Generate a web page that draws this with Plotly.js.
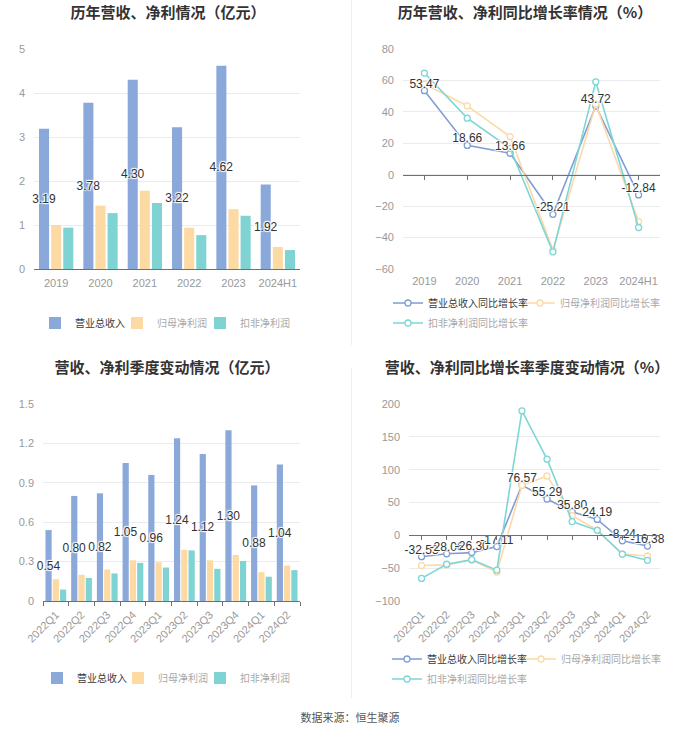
<!DOCTYPE html>
<html>
<head>
<meta charset="utf-8">
<script src="https://cdn.plot.ly/plotly-3.0.1.min.js"></script>
<style>
  html, body { margin: 0; padding: 0; background: #fff; }
  #wrap { position: relative; width: 700px; height: 734px; overflow: hidden; background: #fff; }
  .panel { position: absolute; }
  .sep { position: absolute; left: 351px; width: 1px; background: #eeeeee; }
  #foot { position: absolute; left: 0; width: 700px; top: 709px; text-align: center;
          font-family: "Noto Sans CJK SC", sans-serif; font-size: 11px; color: #555; }
</style>
</head>
<body>
<div id="wrap">
  <div id="p1" class="panel" style="left:0;top:0;width:350px;height:345px;"></div>
  <div id="p2" class="panel" style="left:350px;top:0;width:350px;height:345px;"></div>
  <div id="p3" class="panel" style="left:0;top:345px;width:350px;height:355px;"></div>
  <div id="p4" class="panel" style="left:350px;top:345px;width:350px;height:355px;"></div>
  <div class="sep" style="top:0;height:345px;"></div>
  <div class="sep" style="top:368px;height:330px;"></div>
  <div id="foot">数据来源：恒生聚源</div>
</div>
<script>
// ---------- data ----------
const years = ['2019', '2020', '2021', '2022', '2023', '2024H1'];
const revenueYear = [3.19, 3.78, 4.30, 3.22, 4.62, 1.92];
const netProfitYear = [1.00, 1.44, 1.78, 0.94, 1.36, 0.50];
const deductedYear = [0.94, 1.27, 1.50, 0.77, 1.21, 0.43];

const revenueGrowthYear = [53.47, 18.66, 13.66, -25.21, 43.72, -12.84];
const netGrowthYear = [57.7, 43.8, 24.3, -48.0, 44.9, -29.8];
const deductedGrowthYear = [64.7, 36.0, 16.8, -49.1, 59.1, -33.6];

const quarters = ['2022Q1', '2022Q2', '2022Q3', '2022Q4', '2023Q1', '2023Q2', '2023Q3', '2023Q4', '2024Q1', '2024Q2'];
const revenueQ = [0.54, 0.80, 0.82, 1.05, 0.96, 1.24, 1.12, 1.30, 0.88, 1.04];
const netProfitQ = [0.165, 0.20, 0.24, 0.31, 0.295, 0.39, 0.31, 0.35, 0.22, 0.27];
const deductedQ = [0.087, 0.175, 0.21, 0.29, 0.255, 0.385, 0.245, 0.305, 0.185, 0.235];

const revenueGrowthQ = [-32.53, -28.06, -26.30, -17.11, 76.57, 55.29, 35.80, 24.19, -8.24, -16.38];
const netGrowthQ = [-46.0, -45.0, -37.6, -56.0, 76.0, 90.5, 30.0, 8.0, -28.5, -31.5];
const deductedGrowthQ = [-65.6, -44.0, -37.0, -53.0, 189.6, 116.0, 21.0, 7.6, -28.5, -38.0];

const namesBar = ['营业总收入', '归母净利润', '扣非净利润'];
const namesLine = ['营业总收入同比增长率', '归母净利润同比增长率', '扣非净利润同比增长率'];

// ---------- style ----------
const FONT = '"Liberation Sans", "Noto Sans CJK SC", sans-serif';
const CJK = '"Noto Sans CJK SC", sans-serif';
const cBlue = '#8aa8da', cOrange = '#fddaa3', cTeal = '#7fd3d3';
const lBlue = '#7f9dd4', lOrange = '#fcd9a6', lTeal = '#7dd6d6';
const halo = '1px 1px 1px #fff, -1px -1px 1px #fff, 1px -1px 1px #fff, -1px 1px 1px #fff';
const config = { displayModeBar: false, staticPlot: true };
const legendIds = ['legend', 'legend2', 'legend3'];
const legendColors = ['#3a3a3a', '#a8a8a8', '#a8a8a8'];

function fmt(arr) { return arr.map(v => v.toFixed(2)); }

function barTraces(cats, rev, net, ded) {
  return [
    { type: 'bar', x: cats, y: rev, name: namesBar[0], marker: { color: cBlue }, legend: legendIds[0],
      text: fmt(rev), textposition: 'inside', insidetextanchor: 'middle', textangle: 0,
      constraintext: 'none', cliponaxis: false,
      insidetextfont: { color: '#333', size: 12, family: FONT, shadow: halo } },
    { type: 'bar', x: cats, y: net, name: namesBar[1], marker: { color: cOrange }, legend: legendIds[1] },
    { type: 'bar', x: cats, y: ded, name: namesBar[2], marker: { color: cTeal }, legend: legendIds[2] }
  ];
}

function lineTraces(cats, rev, net, ded) {
  const mk = (c) => ({ symbol: 'circle', size: 6, color: '#fff', line: { color: c, width: 1.3 } });
  return [
    { type: 'scatter', mode: 'lines+markers', x: cats, y: rev, name: namesLine[0], legend: legendIds[0],
      line: { color: lBlue, width: 1.6 }, marker: mk(lBlue), cliponaxis: false },
    { type: 'scatter', mode: 'lines+markers', x: cats, y: net, name: namesLine[1], legend: legendIds[1],
      line: { color: lOrange, width: 1.6 }, marker: mk(lOrange), cliponaxis: false },
    { type: 'scatter', mode: 'lines+markers', x: cats, y: ded, name: namesLine[2], legend: legendIds[2],
      line: { color: lTeal, width: 1.6 }, marker: mk(lTeal), cliponaxis: false },
    { type: 'scatter', mode: 'text', x: cats, y: rev, text: fmt(rev), textposition: 'top center',
      showlegend: false, cliponaxis: false, xaxis: 'x2',
      textfont: { color: '#333', size: 12, family: FONT, shadow: halo } }
  ];
}

// legend positions: item start (px in panel) and row centre (px in panel)
function legends(layout, starts, rowsY) {
  const m = layout.margin, w = layout.width - m.l - m.r, h = layout.height - m.t - m.b;
  const bottom = layout.height - m.b;
  legendIds.forEach((id, i) => {
    layout[id] = { orientation: 'h', xanchor: 'left', yanchor: 'middle',
                   x: (starts[i] - m.l) / w, y: (bottom - rowsY[i]) / h,
                   font: { family: CJK, size: 10, color: legendColors[i] },
                   bgcolor: 'rgba(0,0,0,0)', borderwidth: 0 };
  });
}

function titleObj(text, xPx, yPx, W, H) {
  return { text: text, xref: 'container', yref: 'container', x: xPx / W, y: 1 - yPx / H,
           xanchor: 'center', yanchor: 'middle',
           font: { family: CJK, size: 15, color: '#333', weight: 'bold' } };
}

const tickFont = { family: FONT, size: 11, color: '#999' };

// ---------- panel 1 ----------
(function () {
  const W = 350, H = 345;
  const layout = {
    width: W, height: H, paper_bgcolor: '#fff', plot_bgcolor: '#fff',
    margin: { l: 34, r: 50, t: 49, b: 76, autoexpand: false },
    title: titleObj('历年营收、净利情况（亿元）', 168, 13, W, H),
    barmode: 'group', bargap: 0.18, bargroupgap: 0.17,
    xaxis: { type: 'category', tickfont: tickFont, showline: true, linecolor: '#6e7079', linewidth: 1,
             ticks: '', showgrid: false, ticklabelstandoff: 4 },
    yaxis: { range: [0, 5], dtick: 1, tickfont: tickFont, gridcolor: '#e9ebef', zeroline: false,
             showline: false, ticklabelstandoff: 8 },
    showlegend: true,
    font: { family: FONT }
  };
  legends(layout, [35, 117, 200], [323, 323, 323]);
  Plotly.newPlot('p1', barTraces(years, revenueYear, netProfitYear, deductedYear), layout, config);
})();

// ---------- panel 2 ----------
(function () {
  const W = 350, H = 345;
  const yr = [-60, 80];
  const layout = {
    width: W, height: H, paper_bgcolor: '#fff', plot_bgcolor: '#fff',
    margin: { l: 53, r: 40, t: 49, b: 76, autoexpand: false },
    title: titleObj('历年营收、净利同比增长率情况（%）', 175, 13, W, H),
    xaxis: { type: 'category', categoryarray: years, range: [-0.5, years.length - 0.5],
             tickfont: tickFont, showline: false, showgrid: false, ticks: '', ticklabelstandoff: 4 },
    xaxis2: { type: 'category', categoryarray: years, range: [-0.5, years.length - 0.5],
              overlaying: 'x', anchor: 'free', position: (0 - yr[0]) / (yr[1] - yr[0]),
              showticklabels: false, showline: true, linecolor: '#6e7079', linewidth: 1,
              ticks: 'outside', ticklen: 4, tickcolor: '#6e7079', showgrid: false },
    yaxis: { range: yr, dtick: 20, tickfont: tickFont, gridcolor: '#e9ebef', zeroline: false,
             showline: false, ticklabelstandoff: 8 },
    showlegend: true,
    font: { family: FONT }
  };
  legends(layout, [38, 170, 38], [303, 303, 323]);
  Plotly.newPlot('p2', lineTraces(years, revenueGrowthYear, netGrowthYear, deductedGrowthYear), layout, config);
})();

// ---------- panel 3 ----------
(function () {
  const W = 350, H = 355;
  const layout = {
    width: W, height: H, paper_bgcolor: '#fff', plot_bgcolor: '#fff',
    margin: { l: 43, r: 50, t: 59, b: 99, autoexpand: false },
    title: titleObj('营收、净利季度变动情况（亿元）', 167, 23, W, H),
    barmode: 'group', bargap: 0.15, bargroupgap: 0.15,
    xaxis: { type: 'category', tickfont: tickFont, showline: true, linecolor: '#6e7079', linewidth: 1,
             ticks: 'outside', ticklen: 4, tickcolor: '#6e7079', tickson: 'boundaries',
             tickangle: -45, showgrid: false, ticklabelstandoff: 2 },
    yaxis: { range: [0, 1.5], dtick: 0.3, tickformat: '~g', tickfont: tickFont, gridcolor: '#e9ebef',
             zeroline: false, showline: false, ticklabelstandoff: 8 },
    showlegend: true,
    font: { family: FONT }
  };
  legends(layout, [37, 118, 200], [333, 333, 333]);
  Plotly.newPlot('p3', barTraces(quarters, revenueQ, netProfitQ, deductedQ), layout, config);
})();

// ---------- panel 4 ----------
(function () {
  const W = 350, H = 355;
  const yr = [-100, 200];
  const layout = {
    width: W, height: H, paper_bgcolor: '#fff', plot_bgcolor: '#fff',
    margin: { l: 59, r: 40, t: 59, b: 99, autoexpand: false },
    title: titleObj('营收、净利同比增长率季度变动情况（%）', 177, 23, W, H),
    xaxis: { type: 'category', categoryarray: quarters, range: [-0.5, quarters.length - 0.5],
             tickfont: tickFont, showline: false, showgrid: false, ticks: '', tickangle: -45,
             ticklabelstandoff: 4 },
    xaxis2: { type: 'category', categoryarray: quarters, range: [-0.5, quarters.length - 0.5],
              overlaying: 'x', anchor: 'free', position: (0 - yr[0]) / (yr[1] - yr[0]),
              showticklabels: false, showline: true, linecolor: '#6e7079', linewidth: 1,
              ticks: 'outside', ticklen: 4, tickcolor: '#6e7079', showgrid: false },
    yaxis: { range: yr, dtick: 50, tickfont: tickFont, gridcolor: '#e9ebef', zeroline: false,
             showline: false, ticklabelstandoff: 8 },
    showlegend: true,
    font: { family: FONT }
  };
  legends(layout, [37, 171, 37], [314, 314, 334]);
  Plotly.newPlot('p4', lineTraces(quarters, revenueGrowthQ, netGrowthQ, deductedGrowthQ), layout, config);
})();
</script>
</body>
</html>
